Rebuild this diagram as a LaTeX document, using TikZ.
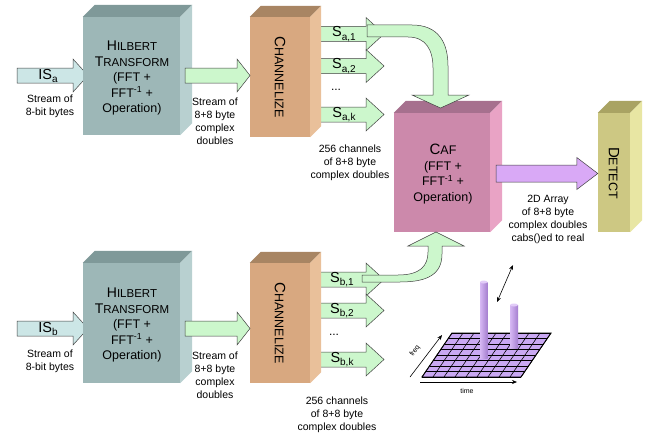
\documentclass[tikz,border=0pt]{standalone}
\usepackage{fontspec}
\setmainfont{Liberation Sans}
\usetikzlibrary{arrows.meta,calc}
\definecolor{hilF}{HTML}{9DB7B7}
\definecolor{hilT}{HTML}{7F9999}
\definecolor{hilS}{HTML}{B8D0D0}
\definecolor{chF}{HTML}{D8A880}
\definecolor{chT}{HTML}{A88563}
\definecolor{chS}{HTML}{E9C09A}
\definecolor{cafF}{HTML}{CC89AB}
\definecolor{cafT}{HTML}{A6708E}
\definecolor{cafS}{HTML}{E9A3C5}
\definecolor{detF}{HTML}{CDC883}
\definecolor{detT}{HTML}{A9A363}
\definecolor{detS}{HTML}{E8E6A3}
\definecolor{inF}{HTML}{CCE6E6}
\definecolor{grF}{HTML}{CCF7CC}
\definecolor{puF}{HTML}{D9A9F6}
\definecolor{gridF}{HTML}{C9A8F2}
\definecolor{barL}{HTML}{D6B8F4}
\definecolor{barD}{HTML}{A57FCF}
\definecolor{barT}{HTML}{E2CCF8}
\newcommand\smc[4]{{\fontsize{#3}{#3}\selectfont #1}{\fontsize{#4}{#4}\selectfont #2}}
\newcommand\subx[1]{\raisebox{-3.5pt}{\fontsize{10}{10}\selectfont #1}}
\newcommand\blockarrow[6]{%
  \draw[blk,fill=#1] let \p1=#2, \p2=#3 in
   (\x1,\y1+#4pt) -- (\x2-#6pt,\y1+#4pt) -- (\x2-#6pt,\y1+#5pt) -- (\x2,\y1) --
   (\x2-#6pt,\y1-#5pt) -- (\x2-#6pt,\y1-#4pt) -- (\x1,\y1-#4pt) -- cycle;}
\newcommand\cube[9]{%
  \node[inner sep=0pt,minimum width=#4pt,minimum height=#5pt,fill=#7] (#1) at (#2,#3) {};
  \fill[#8] (#1.north west) -- ++(#6,-#6) -- ([shift={(#6,-#6)}]#1.north east) -- (#1.north east) -- cycle;
  \fill[#9] (#1.north east) -- ++(#6,-#6) -- ([shift={(#6,-#6)}]#1.south east) -- (#1.south east) -- cycle;}
\begin{document}
\begin{tikzpicture}[x=1pt,y=-1pt,
  blk/.style={draw=black!75,line width=0.5pt,line join=miter},
  note/.style={align=center,font=\fontsize{10.5}{13}\selectfont,inner sep=0pt},
  boxtxt/.style={align=center,font=\fontsize{12.5}{15.5}\selectfont,inner sep=0pt},
  slab/.style={font=\fontsize{14.5}{14.5}\selectfont,inner sep=0pt},
  tinytxt/.style={font=\fontsize{7}{8}\selectfont,inner sep=0pt},
  axis/.style={-{Stealth[length=5pt,width=4pt]},line width=0.6pt}]
\useasboundingbox (0,0) rectangle (647,436);
\fill[white] (0,0) rectangle (647,436);

% arrow anchor coordinates
\coordinate (isa) at (17,75.5);
\coordinate (isb) at (17,328.5);
\coordinate (tipIn) at (88,0);
\coordinate (gtail) at (185,0);
\coordinate (gtip) at (250,0);
\coordinate (sTip) at (384,0);
\coordinate (sa1) at (305,34);
\coordinate (sa2) at (305,66);
\coordinate (sak) at (305,114.5);
\coordinate (sb1) at (305,279.5);
\coordinate (sb2) at (305,310.5);
\coordinate (sbk) at (305,359.5);

% input arrows (behind boxes)
\blockarrow{inF}{(isa)}{(tipIn)}{7.5}{16.5}{15}
\blockarrow{inF}{(isb)}{(tipIn)}{7.5}{16.5}{15}
\node[slab] (isaL) at (48,76) {IS\subx{a}};
\node[slab] (isbL) at (48,329) {IS\subx{b}};

% channel arrows (behind channelize boxes)
\foreach \c in {sa1,sa2,sak,sb1,sb2,sbk}{\blockarrow{grF}{(\c)}{(sTip)}{7.5}{16.5}{18}}

% boxes
\cube{hilA}{131.5}{76}{97}{118}{12}{hilF}{hilT}{hilS}
\cube{hilB}{131.5}{323}{97}{120}{12}{hilF}{hilT}{hilS}
\cube{chA}{280}{77}{60}{120}{11}{chF}{chT}{chS}
\cube{chB}{280}{323}{60}{120}{11}{chF}{chT}{chS}
\cube{caf}{442}{172.5}{96}{119}{12}{cafF}{cafT}{cafS}
\cube{det}{614}{172.5}{32}{119}{12}{detF}{detT}{detS}

% box texts
\node[boxtxt] (hilAt) at (132,78) {\smc{H}{ILBERT}{14}{11.5}\\\smc{T}{RANSFORM}{14}{11.5}\\(FFT +\\FFT\textsuperscript{-1} +\\Operation)};
\node[boxtxt] (hilBt) at (132,325) {\smc{H}{ILBERT}{14}{11.5}\\\smc{T}{RANSFORM}{14}{11.5}\\(FFT +\\FFT\textsuperscript{-1} +\\Operation)};
\node[inner sep=0pt,rotate=-90] (chAt) at (chA) {\smc{C}{HANNELIZE}{15}{12.5}};
\node[inner sep=0pt,rotate=-90] (chBt) at (chB) {\smc{C}{HANNELIZE}{15}{12.5}};
\node[boxtxt] (caft) at (443,174) {\smc{C}{AF}{15}{12.5}\\(FFT +\\FFT\textsuperscript{-1} +\\Operation)};
\node[inner sep=0pt,rotate=-90] (dett) at (614,173) {\smc{D}{ETECT}{15}{12.5}};

% stream arrows
\blockarrow{grF}{(gtail |- isa)}{(gtip)}{7.5}{16.5}{13}
\blockarrow{grF}{(gtail |- isb)}{(gtip)}{7.5}{16.5}{13}

% channel labels
\node[slab] (la1) at (344,34) {S\subx{a,1}};
\node[slab] (la2) at (344,66) {S\subx{a,2}};
\node[slab] (lak) at (344,114.5) {S\subx{a,k}};
\node[slab] (lb1) at (342,279.5) {S\subx{b,1}};
\node[slab] (lb2) at (342,310.5) {S\subx{b,2}};
\node[slab] (lbk) at (342,359.5) {S\subx{b,k}};
\node[font=\fontsize{12}{12}\selectfont,inner sep=0pt] (dotsA) at (336,90) {...};
\node[font=\fontsize{12}{12}\selectfont,inner sep=0pt] (dotsB) at (334,335) {...};

% curved arrows into CAF
\draw[blk,fill=grF] (367,25) -- (412,25) .. controls (438,25) and (448,42) .. (448,66) -- (448,95) -- (469,95) -- (440.5,108) -- (412,95) -- (433,95) -- (433,68) .. controls (433,50) and (426,37) .. (408,37) -- (367,37) -- cycle;
\draw[blk,fill=grF] (362,275) -- (398,275) .. controls (420,275) and (428,266) .. (428,252) -- (428,246) -- (408,246) -- (436,232) -- (464,246) -- (442,246) -- (442,254) .. controls (442,274) and (428,282) .. (400,282) -- (362,282) -- cycle;

% CAF to detect
\coordinate (pt) at (496,173.5);
\blockarrow{puF}{(pt)}{(det.west)}{8.5}{16}{21}

% notes
\node[note] (n1) at (50,106.5) {Stream of\\8-bit bytes};
\node[note] (n2) at (215,121) {Stream of\\8+8 byte\\complex\\doubles};
\node[note] (n3) at (350,163) {256 channels\\of 8+8 byte\\complex doubles};
\node[note] (n4) at (548,219) {2D Array\\of 8+8 byte\\complex doubles\\cabs()ed to real};
\node[note] (n5) at (50,361.5) {Stream of\\8-bit bytes};
\node[note] (n6) at (215,375) {Stream of\\8+8 byte\\complex\\doubles};
\node[note] (n7) at (337,415) {256 channels\\of 8+8 byte\\complex doubles};

% plot
\coordinate (gBL) at (422,377);
\coordinate (gBR) at (521,377);
\coordinate (gTR) at (551,333);
\coordinate (gTL) at (452,333);
\fill[gridF] (gBL) -- (gBR) -- (gTR) -- (gTL) -- cycle;
\foreach \i in {0,...,9}{\draw[line width=0.6pt] ($(gBL)!\i/9!(gBR)$) -- ($(gTL)!\i/9!(gTR)$);}
\foreach \j in {0,...,8}{\draw[line width=0.6pt] ($(gBL)!\j/8!(gTL)$) -- ($(gBR)!\j/8!(gTR)$);}
\draw[line width=0.9pt] (gBL) -- (gBR) -- (gTR) -- (gTL) -- cycle;
\shade[left color=barL,right color=barD] (480,282) rectangle (487.5,358);
\fill[barT] (483.75,282) ellipse (3.75 and 1.5);
\shade[left color=barL,right color=barD] (510,305) rectangle (518,348);
\fill[barT] (514,305) ellipse (4 and 1.5);
\coordinate (daA) at (497,302);
\coordinate (daB) at (513,265);
\draw[{Stealth[length=5pt,width=4pt]}-{Stealth[length=5pt,width=4pt]},line width=0.6pt] (daA) -- (daB);
\coordinate (fA) at (410,377);
\coordinate (fB) at (442,335);
\draw[axis] (fA) -- (fB);
\node[tinytxt,rotate=53] (freqL) at (415,351) {freq};
\coordinate (tA) at (420,382);
\coordinate (tB) at (517,382);
\draw[axis] (tA) -- (tB);
\node[tinytxt] (timeL) at (467,391) {time};
\end{tikzpicture}
\end{document}
